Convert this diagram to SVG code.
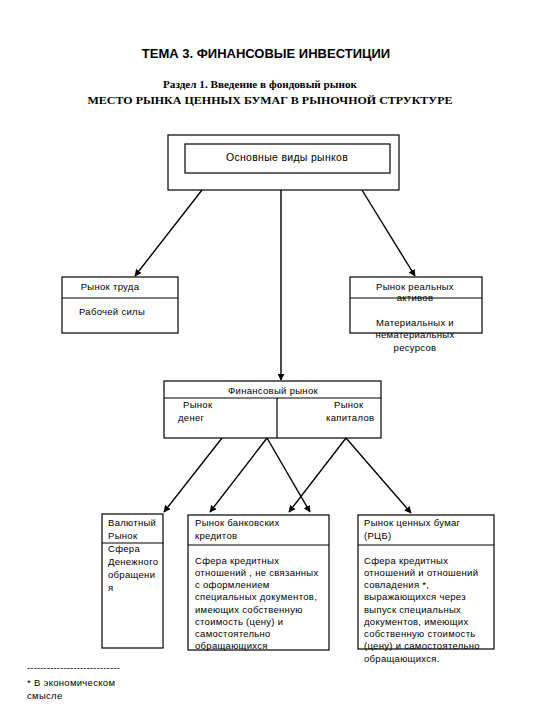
<svg xmlns="http://www.w3.org/2000/svg" width="540" height="720" viewBox="0 0 540 720">
<style>
.b{fill:none;stroke:#000;stroke-width:1.2}
.c{fill:none;stroke:#000;stroke-width:1.4}
.t{font-family:"Liberation Sans",Arial,sans-serif;font-size:9.5px;letter-spacing:0.3px;fill:#000}
.m{text-anchor:middle}
.h{font-family:"Liberation Sans",Arial,sans-serif;font-size:13px;font-weight:bold;fill:#000;text-anchor:middle}
.s{font-family:"Liberation Serif","Times New Roman",serif;font-size:11px;font-weight:bold;fill:#000;text-anchor:middle}
</style>
<defs>
<marker id="a" viewBox="0 0 10 10" refX="9" refY="5" markerWidth="7" markerHeight="7" markerUnits="userSpaceOnUse" orient="auto">
<path d="M0,0 L10,5 L0,10 z" fill="#000"/>
</marker>
</defs>
<rect width="540" height="720" fill="#fff"/>
<g id="title">
<text class="h" x="266" y="58">ТЕМА 3. ФИНАНСОВЫЕ ИНВЕСТИЦИИ</text>
<text class="s" x="260" y="88" textLength="194" lengthAdjust="spacingAndGlyphs">Раздел 1.  Введение в фондовый рынок</text>
<text class="s" x="270" y="104" textLength="365" lengthAdjust="spacingAndGlyphs">МЕСТО РЫНКА ЦЕННЫХ БУМАГ В РЫНОЧНОЙ СТРУКТУРЕ</text>
</g>
<g id="main">
<rect class="b" x="168" y="135" width="231" height="55"/>
<rect class="b" x="185" y="144" width="205" height="29"/>
<text class="t m" x="287" y="161" style="font-size:10.5px">Основные виды рынков</text>
</g>
<g id="labor">
<rect class="b" x="62" y="277" width="116" height="56"/>
<line class="b" x1="62" y1="298" x2="178" y2="298"/>
<text class="t m" x="110" y="290">Рынок труда</text>
<text class="t m" x="112" y="315">Рабочей силы</text>
</g>
<g id="real">
<rect class="b" x="350" y="277" width="132" height="56"/>
<line class="b" x1="350" y1="298" x2="482" y2="298"/>
<text class="t m" x="415" y="290">Рынок реальных</text>
<text class="t m" x="415" y="301">активов</text>
<text class="t m" x="415" y="326">Материальных и</text>
<text class="t m" x="415" y="338">нематериальных</text>
<text class="t m" x="415" y="351">ресурсов</text>
</g>
<g id="fin">
<rect class="b" x="164" y="381" width="217" height="57"/>
<line class="b" x1="164" y1="398" x2="381" y2="398"/>
<line class="b" x1="277" y1="398" x2="277" y2="438"/>
<text class="t m" x="273" y="394">Финансовый рынок</text>
<text class="t" x="183" y="408">Рынок</text>
<text class="t" x="178" y="421">денег</text>
<text class="t" x="334" y="408">Рынок</text>
<text class="t" x="326" y="421">капиталов</text>
</g>
<g id="fx">
<rect class="b" x="102" y="514" width="61" height="134"/>
<line class="b" x1="102" y1="543" x2="163" y2="543"/>
<text class="t" x="108" y="526">Валютный</text>
<text class="t" x="108" y="539">Рынок</text>
<text class="t" x="108" y="552">Сфера</text>
<text class="t" x="108" y="565">Денежного</text>
<text class="t" x="108" y="578">обращени</text>
<text class="t" x="108" y="591">я</text>
</g>
<g id="bank">
<rect class="b" x="188" y="515" width="141" height="135"/>
<line class="b" x1="188" y1="545" x2="329" y2="545"/>
<text class="t" x="195" y="526">Рынок банковских</text>
<text class="t" x="195" y="539">кредитов</text>
<text class="t" x="195" y="564">Сфера кредитных</text>
<text class="t" x="195" y="576">отношений , не связанных</text>
<text class="t" x="195" y="588">с оформлением</text>
<text class="t" x="195" y="600">специальных документов,</text>
<text class="t" x="195" y="613">имеющих собственную</text>
<text class="t" x="195" y="625">стоимость (цену) и</text>
<text class="t" x="195" y="637">самостоятельно</text>
<text class="t" x="195" y="649">обращающихся</text>
</g>
<g id="rcb">
<rect class="b" x="358" y="515" width="136" height="134"/>
<line class="b" x1="358" y1="545" x2="494" y2="545"/>
<text class="t" x="364" y="526">Рынок ценных бумаг</text>
<text class="t" x="364" y="539">(РЦБ)</text>
<text class="t" x="364" y="564">Сфера кредитных</text>
<text class="t" x="364" y="576">отношений и отношений</text>
<text class="t" x="364" y="588">совладения *,</text>
<text class="t" x="364" y="600">выражающихся через</text>
<text class="t" x="364" y="613">выпуск специальных</text>
<text class="t" x="364" y="625">документов, имеющих</text>
<text class="t" x="364" y="637">собственную стоимость</text>
<text class="t" x="364" y="649">(цену) и самостоятельно</text>
<text class="t" x="364" y="662">обращающихся.</text>
</g>
<g id="note">
<text class="t" x="27" y="671" textLength="93" lengthAdjust="spacing">----------------------------</text>
<text class="t" x="27" y="686">* В экономическом</text>
<text class="t" x="27" y="699">смысле</text>
</g>
<g id="connectors">
<line class="c" x1="202" y1="190" x2="135" y2="276" marker-end="url(#a)"/>
<line class="c" x1="362" y1="190" x2="415" y2="276" marker-end="url(#a)"/>
<line class="c" x1="281" y1="190" x2="281" y2="380" marker-end="url(#a)"/>
<line class="c" x1="222" y1="438" x2="164" y2="512" marker-end="url(#a)"/>
<line class="c" x1="267" y1="438" x2="210" y2="512" marker-end="url(#a)"/>
<line class="c" x1="267" y1="438" x2="310" y2="512" marker-end="url(#a)"/>
<line class="c" x1="346" y1="438" x2="289" y2="512" marker-end="url(#a)"/>
<line class="c" x1="346" y1="438" x2="411" y2="513" marker-end="url(#a)"/>
</g>
</svg>
